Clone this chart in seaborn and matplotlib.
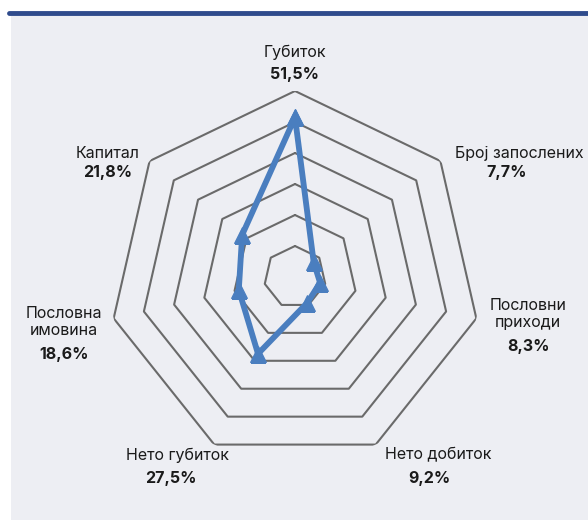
import numpy as np
import pandas as pd
import matplotlib
matplotlib.use("Agg")
import matplotlib.pyplot as plt
import seaborn as sns
from matplotlib.patches import Rectangle
from matplotlib.lines import Line2D

# data: share of companies (%)
data = pd.DataFrame({
    'category': ['Губиток', 'Број запослених', 'Пословни\nприходи', 'Нето добиток',
                 'Нето губиток', 'Пословна\nимовина', 'Капитал'],
    'value': [51.5, 7.7, 8.3, 9.2, 27.5, 18.6, 21.8],
})

sns.set_theme(style="white")
plt.rcParams['font.family'] = ['Inter', 'DejaVu Sans']

W, H = 588, 520
fig = plt.figure(figsize=(W / 100, H / 100), dpi=100)
fig.patch.set_facecolor('white')

# panel background + top rule
fig.patches.append(Rectangle((11 / W, 0), 1 - 11 / W, 1 - 13 / H, transform=fig.transFigure,
                             facecolor='#edeef3', edgecolor='none', zorder=-2))
fig.lines.append(Line2D([9 / W, 1], [1 - 13 / H, 1 - 13 / H], transform=fig.transFigure,
                        color='#2f4b8c', lw=3.5, solid_capstyle='round', zorder=-1))

cx, cy, R = 295, 277, 186
ax = fig.add_axes([(cx - R) / W, (H - cy - R) / H, 2 * R / W, 2 * R / H], projection='polar')
ax.set_zorder(5)
ax.set_facecolor('none')
ax.set_theta_offset(np.pi / 2)
ax.set_theta_direction(-1)

n = len(data)
theta = np.linspace(0, 2 * np.pi, n, endpoint=False)
closed = np.append(theta, 2 * np.pi)

# heptagon grid
for r in range(10, 61, 10):
    ax.plot(closed, [r] * len(closed), color='#6a6a6a', lw=1.5, zorder=1)

plot_df = pd.DataFrame({'theta': closed,
                        'value': np.append(data['value'].values, data['value'].values[0])})
sns.lineplot(data=plot_df, x='theta', y='value', sort=False, ax=ax, color='#4a7ebf',
             lw=4.2, marker='^', markersize=12, markeredgecolor='#4a7ebf', zorder=3)

ax.set_ylim(0, 60)
ax.grid(False)
ax.spines['polar'].set_visible(False)
ax.set_xticks([])
ax.set_yticks([])
ax.set_xlabel('')
ax.set_ylabel('')

# labels (pixel positions)
labels = [
    (295, 52, 75),
    (519, 153, 173),
    (528, 314, 347),
    (438, 455, 478),
    (177, 455, 478),
    (64, 322, 355),
    (108, 153, 173),
]
val_x = [295, 507, 528, 429, 171, 64, 108]
for (x, yn, yv), vx, (_, row) in zip(labels, val_x, data.iterrows()):
    fig.text(x / W, 1 - yn / H, row['category'], ha='center', va='center', fontsize=11.5,
             color='#1a1a1a', linespacing=1.15)
    fig.text(vx / W, 1 - yv / H, f"{row['value']:.1f}%".replace('.', ','), ha='center',
             va='center', fontsize=11.5, fontweight='bold', color='#1a1a1a')

fig.savefig('out.png', dpi=100, facecolor=fig.get_facecolor())
